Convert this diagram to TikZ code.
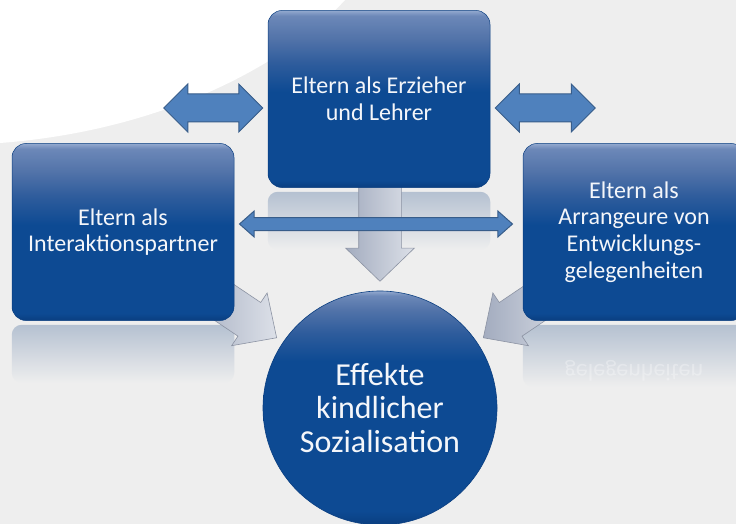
\documentclass[tikz,border=0pt]{standalone}
\usepackage{fontspec}
\setmainfont{Carlito}
\usetikzlibrary{shapes.arrows,calc,positioning}

\definecolor{boxblau}{HTML}{0D4A93}
\definecolor{boxunten}{HTML}{0A3E80}
\definecolor{boxmitte}{HTML}{2E5C9C}
\definecolor{boxhell}{HTML}{5273A9}
\definecolor{boxhellzwei}{HTML}{6C88B8}
\definecolor{boxkante}{HTML}{93A9CF}
\definecolor{pfeilblau}{HTML}{4F81BD}
\definecolor{pfeilrand}{HTML}{385D8A}
\definecolor{hintergrund}{HTML}{EEEEEE}
\definecolor{spiegel}{HTML}{B5C1D1}
\definecolor{graueins}{HTML}{A3ACBF}
\definecolor{grauzwei}{HTML}{BAC1CF}
\definecolor{graudrei}{HTML}{DCE0E8}
\definecolor{graurand}{HTML}{8C93A3}
\definecolor{schrift}{HTML}{F4F6FA}

\pgfdeclareverticalshading{boxschatten}{100bp}{color(0bp)=(boxunten); color(25bp)=(boxunten); color(27bp)=(boxblau); color(52bp)=(boxblau); color(60bp)=(boxmitte); color(67bp)=(boxhell); color(73.5bp)=(boxhellzwei); color(75bp)=(boxkante); color(100bp)=(boxkante)}
\pgfdeclareverticalshading{kugel}{100bp}{color(0bp)=(boxunten); color(25bp)=(boxunten); color(28bp)=(boxblau); color(60bp)=(boxblau); color(66bp)=(boxmitte); color(71bp)=(boxhell); color(74bp)=(boxhellzwei); color(75bp)=(boxkante); color(100bp)=(boxkante)}

\pgfdeclarelayer{background}
\pgfsetlayers{background,main}

\tikzstyle{box}=[rectangle, rounded corners=14pt, minimum width=222pt, minimum height=177pt, shading=boxschatten, draw=boxunten, line width=0.5pt, text=schrift, align=center, font=\fontsize{24}{26.6}\selectfont]
\tikzstyle{ziel}=[circle, minimum size=234pt, shading=kugel, draw=boxunten, line width=0.6pt, text=schrift, align=center, font=\fontsize{32}{33.8}\selectfont]
\tikzstyle{dblarrow}=[double arrow, draw=pfeilrand, fill=pfeilblau, line width=1pt, inner xsep=0pt]
\tikzstyle{grayarrow}=[single arrow, draw=graurand, left color=graueins, middle color=grauzwei, right color=graudrei, line width=0.6pt, inner xsep=0pt, anchor=tip]
\tikzstyle{reflex}=[top color=spiegel, bottom color=hintergrund, draw=none]

\begin{document}
\begin{tikzpicture}[x=1pt,y=-1pt]
\useasboundingbox (0,0) rectangle (736,524);

\node[box] (erzieher) at (379,99) {Eltern als Erzieher\\und Lehrer};
\node[box] (partner) at (123,232) {Eltern als\\Interaktionspartner};
\node[box] (arrangeure) at (634,232) {Eltern als\\Arrangeure von\\Entwicklungs-\\gelegenheiten};
\node[ziel] (effekte) at (380,408) {Effekte\\kindlicher\\Sozialisation};

\begin{pgfonlayer}{background}
% Hintergrund
\fill[hintergrund] (0,0) rectangle (736,524);
\fill[white] (0,0) -- (345,0) .. controls (290,60) and (170,130) .. (0,143) -- cycle;
% Spiegelungen
\shade[reflex, rounded corners=10pt] ($(erzieher.south west)+(0,4)$) rectangle ($(erzieher.south east)+(0,62)$);
\shade[reflex, rounded corners=10pt] ($(partner.south west)+(0,4)$) rectangle ($(partner.south east)+(0,62)$);
\shade[reflex, rounded corners=10pt] ($(arrangeure.south west)+(0,4)$) rectangle ($(arrangeure.south east)+(0,66)$);
\node[text=white, opacity=0.3, font=\fontsize{24}{26}\selectfont] (spiegeltext) at ($(arrangeure.south)+(0,50)$) {\scalebox{1}[-1]{gelegenheiten}};
% graue Pfeile
\node[grayarrow, rotate=-90, minimum height=100pt, inner ysep=21pt, single arrow head extend=13pt, single arrow tip angle=92] (pfeilU) at ($(effekte.north)+(0,-9)$) {};
\node[grayarrow, rotate=-34, minimum height=100pt, inner ysep=20pt, single arrow head extend=11.5pt, single arrow tip angle=88] (pfeilL) at ($(effekte.center)+(-103,-70)$) {};
\node[grayarrow, rotate=-146, minimum height=100pt, inner ysep=20pt, single arrow head extend=11.5pt, single arrow tip angle=88] (pfeilR) at ($(effekte.center)+(103,-70)$) {};
\end{pgfonlayer}

% blaue Doppelpfeile
\node[dblarrow, minimum height=99pt, inner ysep=13.5pt, double arrow head extend=10pt, double arrow tip angle=90] (dpL) at ($(erzieher.west)+(-54.5,9)$) {};
\node[dblarrow, minimum height=100pt, inner ysep=13.5pt, double arrow head extend=10pt, double arrow tip angle=90] (dpR) at ($(erzieher.east)+(55,9)$) {};
\node[dblarrow, minimum height=273pt, inner ysep=6pt, double arrow head extend=6.5pt, double arrow tip angle=83] (dpM) at ($(partner.east)!0.5!(arrangeure.west)+(-2.5,-8)$) {};

\end{tikzpicture}
\end{document}
